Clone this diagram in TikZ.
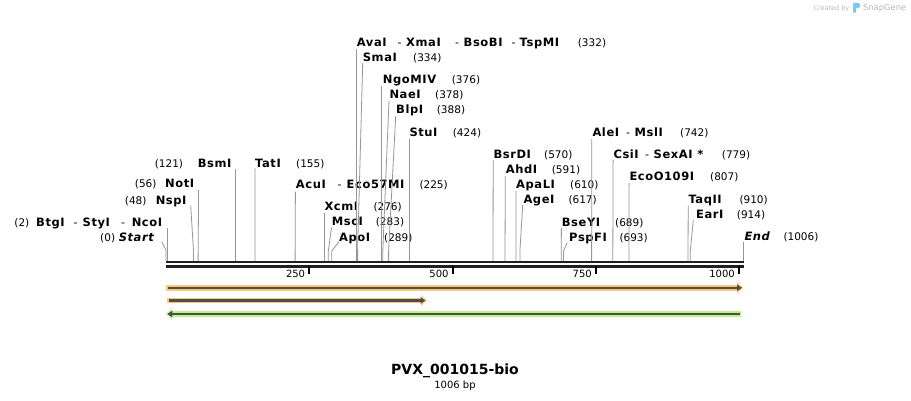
\documentclass[tikz,border=0pt]{standalone}
\usepackage{fontspec}
\setmainfont{DejaVu Sans}
\newfontfamily\enzfont[LetterSpace=5]{DejaVu Sans}
\usetikzlibrary{arrows.meta}
\definecolor{cutgray}{RGB}{150,150,150}
\definecolor{cdsorange}{RGB}{252,200,118}
\definecolor{featgreen}{RGB}{188,244,140}
\definecolor{featline}{RGB}{78,78,78}
\definecolor{logogray}{RGB}{185,185,185}
\definecolor{logoblue}{RGB}{125,200,240}
\begin{document}
\begin{tikzpicture}[x=1pt,y=-1pt,
  enz/.style={font={\enzfont\bfseries\fontsize{11.5}{13}\selectfont}, anchor=base west, inner sep=0pt},
  enzE/.style={enz, anchor=base east},
  enzit/.style={font={\enzfont\bfseries\itshape\fontsize{11.5}{13}\selectfont}, anchor=base west, inner sep=0pt},
  enzitE/.style={enzit, anchor=base east},
  hyph/.style={font={\fontsize{11}{13}\selectfont}, anchor=base west, inner sep=0pt},
  num/.style={font={\fontsize{10.5}{12}\selectfont}, anchor=base west, inner sep=0pt},
  numE/.style={num, anchor=base east},
  ticklbl/.style={font={\fontsize{10}{12}\selectfont}, anchor=base east, inner sep=0pt},
  cut/.style={draw=cutgray, line width=0.8pt},
  rulerbar/.style={draw=black!88, line width=2.6pt},
  tickmark/.style={draw=black, line width=1.8pt},
  featline/.style={draw=featline, line width=2.2pt},
]
\useasboundingbox (0,0) rectangle (911,400);
\fill[white] (0,0) rectangle (911,400);

% ---------------- logo
\node[font={\fontsize{6.5}{7}\selectfont}, text=logogray, anchor=base west, inner sep=0pt] (created) at (813.3,10.5) {Created by};
\fill[logoblue] (853,2.8) -- (857.5,2.8) .. controls (861,2.8) and (861,8.2) .. (857.5,8.2) -- (856,8.2) -- (856,12.5) -- (853,12.5) -- cycle;
\node[font={\fontsize{8.4}{9}\selectfont}, text=logogray, anchor=base west, inner sep=0pt] (snapgene) at (862.8,10.8) {SnapGene};

% ---------------- ruler
\coordinate (rL) at (166,262);
\coordinate (rR) at (744,262);
\draw[rulerbar] (rL) -- (rR);
\draw[rulerbar] ([yshift=-4.4pt]rL) -- ([yshift=-4.4pt]rR);
\foreach \tx/\tl in {309.3/250, 452.7/500, 596/750, 739/1000}{
  \draw[tickmark] (\tx,266) -- (\tx,274.3);
  \node[ticklbl] (tick\tl) at (\tx-4,277.5) {\tl};
}

% ---------------- site coordinates on the ruler
\foreach \p/\sx in {0/166.0, 2/167.1, 48/193.5, 56/198.1, 121/235.4, 155/254.9, 225/295.1,
  276/324.3, 283/328.3, 289/331.8, 332/356.4, 334/357.6, 376/381.7, 378/382.8, 388/388.6,
  424/409.2, 570/493.0, 591/505.0, 610/515.9, 617/519.9, 689/561.2, 693/563.5, 742/591.6,
  779/612.8, 807/628.9, 910/688.0, 914/690.3, 1006/743.5}{
  \coordinate (s\p) at (\sx,261);
  \coordinate (b\p) at (\sx,251);
}

% ---------------- labels (right side)
\node[enz] (ava) at (356.7,46.3) {AvaI};
\node[hyph] (h1) at (397.5,46.3) {-};
\node[enz] (xma) at (406,46.3) {XmaI};
\node[hyph] (h2) at (455,46.3) {-};
\node[enz] (bso) at (463.5,46.3) {BsoBI};
\node[hyph] (h3) at (511.5,46.3) {-};
\node[enz] (tsp) at (519.5,46.3) {TspMI};
\node[num] (n332) at (577.7,46.3) {(332)};

\node[enz] (sma) at (362.7,61.3) {SmaI};
\node[num] (n334) at (413,61.3) {(334)};

\node[enz] (ngo) at (382.7,83.3) {NgoMIV};
\node[num] (n376) at (451.7,83.3) {(376)};

\node[enz] (nae) at (389.3,98.3) {NaeI};
\node[num] (n378) at (435,98.3) {(378)};

\node[enz] (blp) at (396,113.3) {BlpI};
\node[num] (n388) at (436.7,113.3) {(388)};

\node[enz] (stu) at (409.3,136.7) {StuI};
\node[num] (n424) at (452.7,136.7) {(424)};

\node[enz] (ale) at (592.3,136.7) {AleI};
\node[hyph] (h4) at (626,136.7) {-};
\node[enz] (msl) at (634.5,136.7) {MslI};
\node[num] (n742) at (680,136.7) {(742)};

\node[enz] (tat) at (255,167) {TatI};
\node[num] (n155) at (296,167) {(155)};

\node[enz] (bsr) at (493.3,158) {BsrDI};
\node[num] (n570) at (544,158) {(570)};

\node[enz] (csi) at (613.3,158) {CsiI};
\node[hyph] (h5) at (645,158) {-};
\node[enz] (sex) at (653.5,158) {SexAI *};
\node[num] (n779) at (721.7,158) {(779)};

\node[enz] (ahd) at (505.7,173.3) {AhdI};
\node[num] (n591) at (551.7,173.3) {(591)};

\node[enz] (eco) at (629.3,180.7) {EcoO109I};
\node[num] (n807) at (710,180.7) {(807)};

\node[enz] (acu) at (295.7,188) {AcuI};
\node[hyph] (h6) at (337.5,188) {-};
\node[enz] (e57) at (346.5,188) {Eco57MI};
\node[num] (n225) at (419.3,188) {(225)};

\node[enz] (apl) at (516,188) {ApaLI};
\node[num] (n610) at (570,188) {(610)};

\node[enz] (age) at (523.3,203.3) {AgeI};
\node[num] (n617) at (568.3,203.3) {(617)};

\node[enz] (taq) at (688.3,203.3) {TaqII};
\node[num] (n910) at (739.3,203.3) {(910)};

\node[enz] (xcm) at (324.3,210.7) {XcmI};
\node[num] (n276) at (373.3,210.7) {(276)};

\node[enz] (ear) at (696,218.3) {EarI};
\node[num] (n914) at (736.7,218.3) {(914)};

\node[enz] (msc) at (331.7,225) {MscI};
\node[num] (n283) at (375.7,225) {(283)};

\node[enz] (bse) at (561.7,226.3) {BseYI};
\node[num] (n689) at (615,226.3) {(689)};

\node[enz] (apo) at (339,241.3) {ApoI};
\node[num] (n289) at (384,241.3) {(289)};

\node[enz] (psp) at (569,241.3) {PspFI};
\node[num] (n693) at (619.3,241.3) {(693)};

\node[enzit] (endl) at (744.3,240.7) {End};
\node[num] (n1006) at (783.3,240.7) {(1006)};

% ---------------- labels (left side)
\node[numE] (n121) at (183.3,167) {(121)};
\node[enzE] (bsm) at (231.7,167) {BsmI};

\node[numE] (n56) at (156.7,187) {(56)};
\node[enzE] (not) at (194.3,187) {NotI};

\node[numE] (n48) at (146.7,204) {(48)};
\node[enzE] (nsp) at (186.7,204) {NspI};

\node[numE] (n2) at (29.5,226) {(2)};
\node[enz] (btg) at (36,226) {BtgI};
\node[hyph] (h7) at (73.3,226) {-};
\node[enz] (sty) at (82.5,226) {StyI};
\node[hyph] (h8) at (121,226) {-};
\node[enzE] (nco) at (162.3,226) {NcoI};

\node[numE] (n0) at (115.3,241) {(0)};
\node[enzitE] (start) at (154,241) {Start};

% ---------------- label attachment points
\coordinate (t332) at (356.5,49);
\coordinate (t334) at (362.7,63);
\coordinate (t376) at (381.7,86);
\coordinate (t378) at (389,100.7);
\coordinate (t388) at (395.7,116);
\coordinate (t424) at (409.2,139);
\coordinate (t742) at (591.8,139);
\coordinate (t121) at (235.4,168.5);
\coordinate (t155) at (255.1,168.5);
\coordinate (t570) at (493.2,160);
\coordinate (t779) at (613.1,160);
\coordinate (t591) at (505.3,176);
\coordinate (t807) at (629.1,183);
\coordinate (t56) at (198.6,190);
\coordinate (t225) at (295.4,191.5);
\coordinate (t610) at (516,191);
\coordinate (t48) at (190.7,205.7);
\coordinate (t617) at (522.7,205);
\coordinate (t910) at (688.2,205.5);
\coordinate (t276) at (324.3,212.7);
\coordinate (t914) at (693.3,220);
\coordinate (t283) at (331.5,227.3);
\coordinate (t2) at (167.1,228);
\coordinate (t689) at (561.4,228);
\coordinate (t0) at (161.7,241.7);
\coordinate (t289) at (339,241.7);
\coordinate (t693) at (567.3,242.7);
\coordinate (t1006) at (743.5,241.7);

% vertical cut lines
\foreach \p in {332,376,424,742,121,155,570,779,591,807,56,225,610,910,276,2,689,1006}{
  \draw[cut] (t\p) -- (s\p);
}
% slanted cut lines
\foreach \p in {334,378,388,48,617,914,283,289,693}{
  \draw[cut] (t\p) -- (b\p) -- (s\p);
}
\coordinate (b0x) at (166,250);
\draw[cut] (t0) -- (b0x) -- (s0);

% ---------------- features
% orange 1 (forward, full length)
\fill[cdsorange] (166,285) rectangle (737,290.6);
\fill[cdsorange, fill opacity=0.7] (737,281.8) -- (743.5,287.8) -- (737,293.8) -- cycle;
\coordinate (f1a) at (168.3,287.8);
\coordinate (f1b) at (742,287.8);
\draw[featline, -{Triangle[length=5pt,width=6.5pt]}] (f1a) -- (f1b);
% orange 2 (forward, partial)
\fill[cdsorange] (167.3,297.7) rectangle (421,303.3);
\fill[cdsorange, fill opacity=0.7] (421,294.5) -- (427.3,300.5) -- (421,306.5) -- cycle;
\coordinate (f2a) at (169.3,300.5);
\coordinate (f2b) at (425.5,300.5);
\draw[featline, -{Triangle[length=5pt,width=6.5pt]}] (f2a) -- (f2b);
% green (reverse, full length)
\fill[featgreen] (172,311.3) rectangle (741.3,316.7);
\fill[featgreen, fill opacity=0.7] (172,308) -- (165.8,314) -- (172,320) -- cycle;
\coordinate (f3a) at (739.5,314);
\coordinate (f3b) at (167.3,314);
\draw[featline, -{Triangle[length=5pt,width=6.5pt]}] (f3a) -- (f3b);

% ---------------- title
\node[font={\bfseries\fontsize{14}{16}\selectfont}, anchor=base, inner sep=0pt] (title) at (455,374) {PVX\_001015-bio};
\node[font={\fontsize{10}{12}\selectfont}, anchor=base, inner sep=0pt] (bp) at (455,388) {1006 bp};
\end{tikzpicture}
\end{document}
